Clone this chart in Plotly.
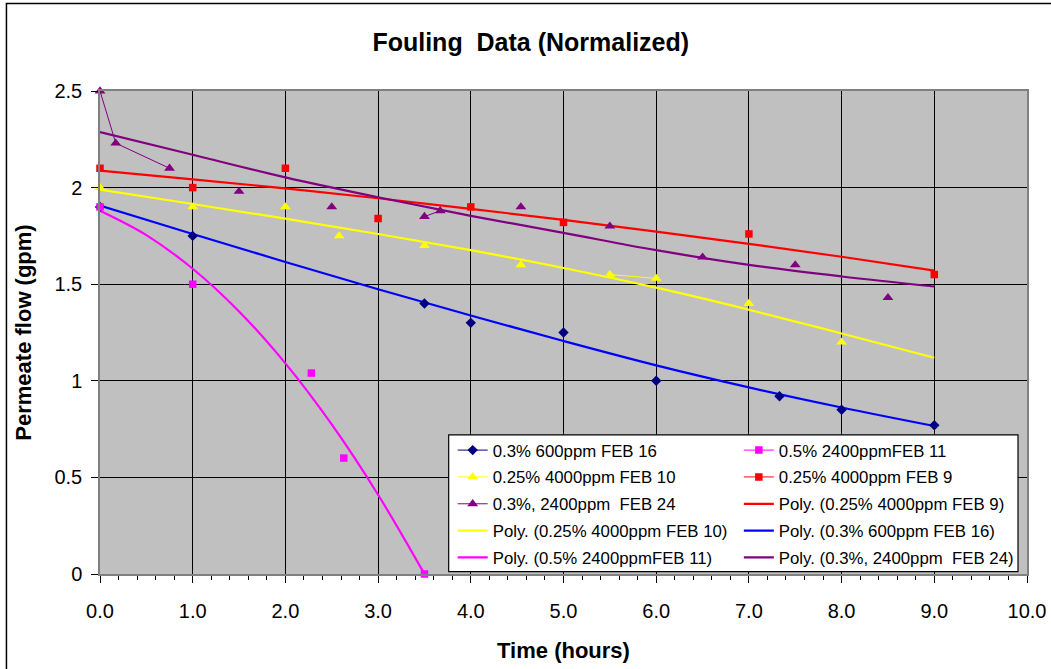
import plotly.graph_objects as go

# ---------------- data ----------------
# None = blank cell in the sheet (breaks the connecting line)
x_feb16 = [0.0, None, 1.0, None, 3.5, None, 4.0, None, 5.0, None, 6.0, None, 7.33, None, 8.0, None, 9.0]
y_feb16 = [1.90, None, 1.75, None, 1.40, None, 1.30, None, 1.25, None, 1.00, None, 0.92, None, 0.85, None, 0.77]

x_feb11 = [0.0, None, 1.0, None, 2.28, None, 2.63, None, 3.5]
y_feb11 = [1.90, None, 1.50, None, 1.04, None, 0.60, None, 0.0]

x_feb10 = [0.0, None, 1.0, None, 2.0, None, 2.58, None, 3.5, None, 4.54, None, 5.5, 6.0, None, 7.0, None, 8.0]
y_feb10 = [2.00, None, 1.90, None, 1.90, None, 1.75, None, 1.70, None, 1.60, None, 1.55, 1.53, None, 1.40, None, 1.20]

x_feb9 = [0.0, None, 1.0, None, 2.0, None, 3.0, None, 4.0, None, 5.0, None, 7.0, None, 9.0]
y_feb9 = [2.10, None, 2.00, None, 2.10, None, 1.84, None, 1.90, None, 1.82, None, 1.76, None, 1.55]

x_feb24 = [0.0, 0.17, 0.75, None, 1.5, None, 2.5, None, 3.5, 3.67, None, 4.54, None, 5.5, None, 6.5, None, 7.5, None, 8.5]
y_feb24 = [2.50, 2.23, 2.10, None, 1.98, None, 1.90, None, 1.85, 1.88, None, 1.90, None, 1.80, None, 1.64, None, 1.60, None, 1.43]

# polynomial trend lines
trend_x = [0, 1, 2, 3, 4, 5, 6, 7, 8, 9]
trend_feb9 = [2.088, 2.043, 1.996, 1.945, 1.890, 1.833, 1.772, 1.709, 1.642, 1.570]
trend_feb10 = [1.990, 1.915, 1.839, 1.760, 1.676, 1.584, 1.482, 1.368, 1.245, 1.119]
trend_feb16 = [1.907, 1.760, 1.615, 1.474, 1.338, 1.206, 1.080, 0.966, 0.862, 0.766]
trend_feb24 = [2.287, 2.170, 2.053, 1.950, 1.854, 1.766, 1.676, 1.600, 1.540, 1.488]
trend_x_feb11 = [0.0, 0.5, 1.0, 1.5, 2.0, 2.5, 3.0, 3.5]
trend_feb11 = [1.880, 1.754, 1.580, 1.359, 1.090, 0.774, 0.410, 0.0]

NB = "\u00a0"
name_feb16 = "0.3% 600ppm FEB 16"
name_feb11 = "0.5% 2400ppmFEB 11"
name_feb10 = "0.25% 4000ppm FEB 10"
name_feb9 = "0.25% 4000ppm FEB 9"
name_feb24 = "0.3%, 2400ppm" + NB + " FEB 24"

FONT = "Liberation Sans, Arial, sans-serif"

fig = go.Figure()

def data_trace(x, y, name, color, symbol, size, legend, group):
    return go.Scatter(
        x=x, y=y, name=name, mode="lines+markers", connectgaps=False,
        line=dict(color=color, width=1),
        marker=dict(color=color, symbol=symbol, size=size, line=dict(width=0)),
        legend=legend, legendgroup=group, cliponaxis=False,
    )

def trend_trace(x, y, name, color, legend, group):
    return go.Scatter(
        x=x, y=y, name="Poly. (" + name + ")", mode="lines",
        line=dict(color=color, width=2.2, shape="spline", smoothing=1.0),
        legend=legend, legendgroup=group,
    )

# trend lines first (drawn below the markers)
fig.add_trace(trend_trace(trend_x, trend_feb9, name_feb9, "#FF0000", "legend2", "g6"))
fig.add_trace(trend_trace(trend_x, trend_feb10, name_feb10, "#FFFF00", "legend", "g7"))
fig.add_trace(trend_trace(trend_x, trend_feb16, name_feb16, "#0000FF", "legend2", "g8"))
fig.add_trace(trend_trace(trend_x_feb11, trend_feb11, name_feb11, "#FF00FF", "legend", "g9"))
fig.add_trace(trend_trace(trend_x, trend_feb24, name_feb24, "#800080", "legend2", "g10"))

fig.add_trace(data_trace(x_feb16, y_feb16, name_feb16, "#000080", "diamond", 8, "legend", "g1"))
fig.add_trace(data_trace(x_feb11, y_feb11, name_feb11, "#FF00FF", "square", 7.5, "legend2", "g2"))
fig.add_trace(data_trace(x_feb10, y_feb10, name_feb10, "#FFFF00", "triangle-up", 9.5, "legend", "g3"))
fig.add_trace(data_trace(x_feb9, y_feb9, name_feb9, "#FF0000", "square", 7.5, "legend2", "g4"))
fig.add_trace(data_trace(x_feb24, y_feb24, name_feb24, "#800080", "triangle-up", 9.5, "legend", "g5"))

# legend column order (row-major in the reference)
order_left = ["g1", "g3", "g5", "g7", "g9"]
order_right = ["g2", "g4", "g6", "g8", "g10"]
for tr in fig.data:
    g = tr.legendgroup
    rank = (order_left + order_right).index(g)
    tr.legendrank = rank + 1

PL, PR, PT, PB = 100.5, 1027.0, 90.7, 574.3
PW, PH = PR - PL, PB - PT

def px_x(p):
    return (p - PL) / PW

def px_y(p):
    return (PB - p) / PH

legend_common = dict(
    bgcolor="rgba(0,0,0,0)", borderwidth=0,
    font=dict(family=FONT, size=16.8, color="black"),
    orientation="v", yanchor="top", xanchor="left",
    tracegroupgap=2, itemclick=False, itemdoubleclick=False,
)

fig.update_layout(
    width=1051, height=669,
    margin=dict(l=100, r=24, t=91, b=95, autoexpand=False),
    paper_bgcolor="white",
    plot_bgcolor="#C0C0C0",
    font=dict(family=FONT, color="black"),
    title=dict(
        text="<b>Fouling" + NB + " Data (Normalized)</b>",
        font=dict(family=FONT, size=25, color="black"),
        x=0.505, xref="container", xanchor="center",
        y=1 - 42 / 669, yref="container", yanchor="middle",
    ),
    xaxis=dict(
        range=[0, 10], dtick=1, tick0=0, tickformat=".1f",
        showgrid=True, gridcolor="black", gridwidth=1,
        showline=True, linecolor="#808080", linewidth=1.5, mirror=True,
        ticks="outside", ticklen=7, tickcolor="black", tickwidth=1,
        minor=dict(dtick=0.2, ticks="outside", ticklen=4, tickcolor="black", showgrid=False),
        tickfont=dict(family=FONT, size=20, color="black"),
        ticklabelstandoff=11, ticklabeloverflow="allow",
        zeroline=False, automargin=False,
        title=dict(text="<b>Time (hours)</b>", font=dict(family=FONT, size=22, color="black"), standoff=22),
    ),
    yaxis=dict(
        range=[0, 2.5], dtick=0.5, tick0=0,
        showgrid=True, gridcolor="black", gridwidth=1,
        showline=True, linecolor="#808080", linewidth=1.5, mirror=True,
        ticks="outside", ticklen=7, tickcolor="black", tickwidth=1,
        tickfont=dict(family=FONT, size=20, color="black"),
        ticklabelstandoff=5, ticklabeloverflow="allow",
        zeroline=False, automargin=False,
        title=dict(text="<b>Permeate flow (gpm)</b>", font=dict(family=FONT, size=22, color="black"), standoff=17),
    ),
    legend=dict(x=px_x(453), y=px_y(432.8), **legend_common),
    legend2=dict(x=px_x(739), y=px_y(432.8), **legend_common),
    shapes=[
        # legend frame
        dict(type="rect", xref="paper", yref="paper",
             x0=px_x(449), x1=px_x(1018), y0=px_y(572), y1=px_y(435),
             fillcolor="white", line=dict(color="black", width=1.2), layer="above"),
        # chart-area border
        dict(type="rect", xref="paper", yref="paper",
             x0=px_x(7), x1=px_x(1070), y0=px_y(700), y1=px_y(3),
             fillcolor="rgba(0,0,0,0)", line=dict(color="black", width=1.5), layer="above"),
    ],
    showlegend=True,
)

fig.write_html("out.html")
